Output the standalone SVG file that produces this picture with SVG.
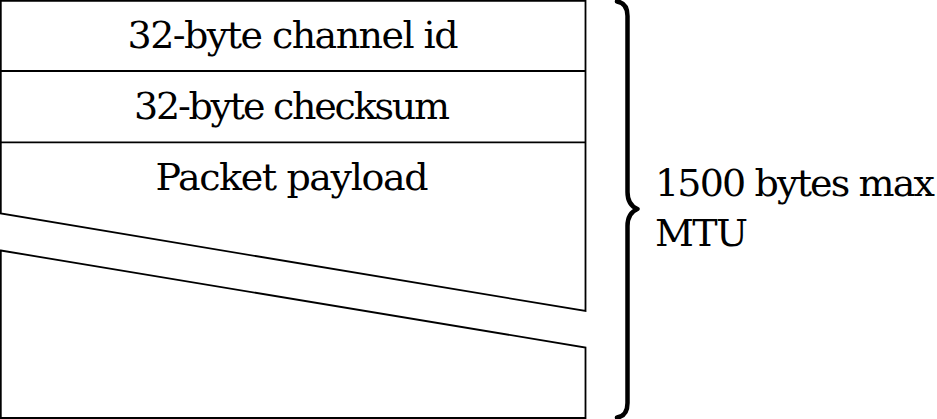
<svg xmlns="http://www.w3.org/2000/svg" width="937" height="419" viewBox="0 0 937 419">
<style>
.box{fill:#fff;stroke:#000;stroke-width:1.8;stroke-linejoin:miter}
.t{font-family:'DejaVu Serif',serif;font-size:38px;fill:#000}
.c{text-anchor:middle}
.brace{fill:none;stroke:#000;stroke-width:4.5;stroke-linecap:round;stroke-linejoin:round}
</style>
<rect width="937" height="419" fill="#fff"/>
<g id="upper-block">
<path class="box" d="M0.8,0.8 L585.5,0.8 L585.5,311 L0.8,213.5 Z"/>
<line class="box" x1="0.8" y1="71" x2="585.5" y2="71"/>
<line class="box" x1="0.8" y1="142.3" x2="585.5" y2="142.3"/>
</g>
<g id="lower-block">
<path class="box" d="M0.8,250.5 L585.5,347.5 L585.5,418 L0.8,418 Z"/>
</g>
<g id="channel-id"><text class="t c" x="293" y="48" textLength="331">32-byte channel id</text></g>
<g id="checksum"><text class="t c" x="292" y="119" textLength="316">32-byte checksum</text></g>
<g id="payload"><text class="t c" x="292" y="190" textLength="273">Packet payload</text></g>
<g id="connectors">
<path class="brace" d="M617,1.5 Q627.5,3 627.5,16 L627.5,192 Q627.5,205 637.5,209 Q627.5,213 627.5,226 L627.5,403 Q627.5,416 617,417.5"/>
</g>
<g id="mtu-label">
<text class="t" x="655" y="196" textLength="280">1500 bytes max</text>
<text class="t" x="655" y="246" textLength="93">MTU</text>
</g>
</svg>
